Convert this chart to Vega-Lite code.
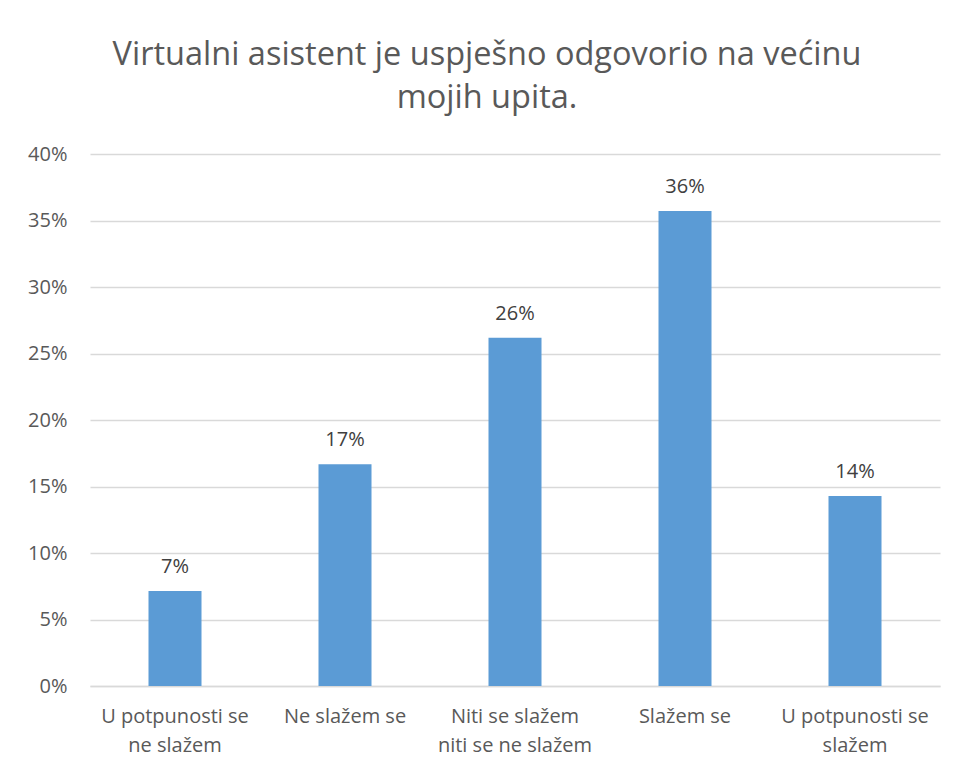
{
  "$schema": "https://vega.github.io/schema/vega-lite/v6.json",
  "width": 850,
  "height": 532,
  "autosize": {"type": "none"},
  "padding": {"left": 90, "top": 154, "right": 16, "bottom": 88},
  "background": "white",
  "title": {
    "text": ["Virtualni asistent je uspješno odgovorio na većinu", "mojih upita."],
    "fontSize": 32.5,
    "font": "Open Sans",
    "fontWeight": "normal",
    "color": "#595959",
    "anchor": "middle",
    "dx": -28,
    "offset": 30,
    "lineHeight": 43
  },
  "data": {
    "values": [
      {"kategorija": "U potpunosti se ne slažem", "udio": 0.0714},
      {"kategorija": "Ne slažem se", "udio": 0.1667},
      {"kategorija": "Niti se slažem niti se ne slažem", "udio": 0.2619},
      {"kategorija": "Slažem se", "udio": 0.3571},
      {"kategorija": "U potpunosti se slažem", "udio": 0.1429}
    ]
  },
  "encoding": {
    "x": {
      "field": "kategorija",
      "type": "nominal",
      "sort": null,
      "scale": {"paddingInner": 0, "paddingOuter": 0},
      "axis": {
        "title": null,
        "labelAngle": 0,
        "labelFont": "Open Sans",
        "labelFontSize": 20,
        "labelColor": "#595959",
        "labelPadding": 20,
        "labelLineHeight": 29,
        "labelOverlap": false,
        "ticks": false,
        "domainColor": "#d9d9d9",
        "domainWidth": 1.5,
        "grid": false,
        "labelExpr": "datum.value == 'U potpunosti se ne slažem' ? ['U potpunosti se', 'ne slažem'] : datum.value == 'Niti se slažem niti se ne slažem' ? ['Niti se slažem', 'niti se ne slažem'] : datum.value == 'U potpunosti se slažem' ? ['U potpunosti se', 'slažem'] : datum.value"
      }
    },
    "y": {
      "field": "udio",
      "type": "quantitative",
      "scale": {"domain": [0, 0.4], "nice": false},
      "axis": {
        "title": null,
        "format": ".0%",
        "values": [0, 0.05, 0.1, 0.15, 0.2, 0.25, 0.3, 0.35, 0.4],
        "labelOverlap": false,
        "labelFont": "Open Sans",
        "labelFontSize": 20,
        "labelColor": "#595959",
        "labelPadding": 23,
        "ticks": false,
        "domain": false,
        "gridColor": "#d9d9d9",
        "gridWidth": 1.5
      }
    }
  },
  "layer": [
    {"mark": {"type": "bar", "color": "#5b9bd5", "size": 53}},
    {
      "mark": {"type": "text", "baseline": "alphabetic", "dy": -18, "font": "Open Sans", "fontSize": 20, "color": "#404040"},
      "encoding": {"text": {"field": "udio", "format": ".0%"}}
    }
  ],
  "config": {"view": {"stroke": null}}
}
